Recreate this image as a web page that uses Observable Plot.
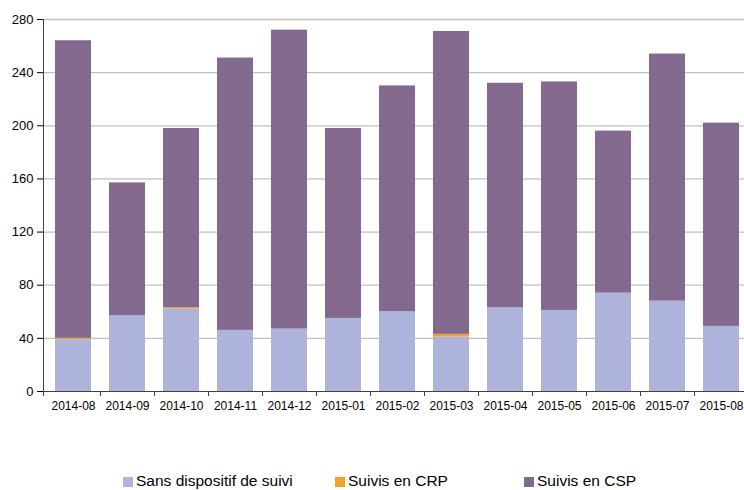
<!DOCTYPE html>
<html>
<head>
<meta charset="utf-8">
<script src="https://cdn.jsdelivr.net/npm/d3@7"></script>
<script src="https://cdn.jsdelivr.net/npm/@observablehq/plot@0.6"></script>
<style>
  html, body { margin: 0; padding: 0; background: #fff; overflow: hidden; }
  body { font-family: "Liberation Sans", Arial, sans-serif; width: 744px; }
  #chart { width: 744px; overflow: hidden; }
  #chart svg { display: block; max-width: none !important; }
  #legend { position: relative; height: 70px; width: 744px; }
  .item { position: absolute; top: 52px; display: flex; align-items: center; font-size: 15.5px; color: #000; white-space: nowrap; line-height: 18px; }
  .sw { width: 10px; height: 10px; margin-right: 3px; margin-top: 2px; }
</style>
</head>
<body>
<div id="chart"></div>
<div id="legend"></div>
<script>
const months = ["2014-08","2014-09","2014-10","2014-11","2014-12","2015-01","2015-02","2015-03","2015-04","2015-05","2015-06","2015-07","2015-08"];
const seriesNames = ["Sans dispositif de suivi", "Suivis en CRP", "Suivis en CSP"];
const sansValues = [39, 57, 62, 46, 47, 55, 60, 41, 63, 61, 74, 68, 49];
const crpValues  = [1, 0, 1, 0, 0, 0, 0, 2, 0, 0, 0, 0, 0];
const cspValues  = [224, 100, 135, 205, 225, 143, 170, 228, 169, 172, 122, 186, 153];
const yTicks = [0, 40, 80, 120, 160, 200, 240, 280];
const colors = ["#adb3da", "#f5a02b", "#84698f"];

const seriesValues = [sansValues, crpValues, cspValues];
const data = months.flatMap((m, i) =>
  seriesNames.map((s, k) => ({month: m, series: s, value: seriesValues[k][i]}))
);

const chart = Plot.plot({
  width: 750,
  height: 420,
  marginTop: 19,
  marginBottom: 29,
  marginLeft: 43,
  marginRight: 0,
  style: {fontFamily: '"Liberation Sans", Arial, sans-serif', color: "#000", background: "#fff", maxWidth: "none"},
  x: {domain: months, paddingInner: 0.336, paddingOuter: 0.19, label: null},
  y: {domain: [0, 280], label: null},
  color: {domain: seriesNames, range: colors},
  marks: [
    Plot.ruleY(yTicks.filter(d => d > 0), {stroke: "#c0c0c0", strokeWidth: 1.3}),
    Plot.barY(data, {x: "month", y: "value", fill: "series", order: seriesNames, inset: 0}),
    Plot.ruleY([0], {stroke: "#404040", strokeWidth: 1}),
    Plot.axisY({ticks: yTicks, tickSize: 6, tickPadding: 4, fontSize: 13, label: null, stroke: "#000"}),
    Plot.axisX({tickSize: 0, tickPadding: 10, fontSize: 12, label: null})
  ]
});
document.getElementById("chart").appendChild(chart);

// Left axis line and category boundary ticks, from the plot's own scales
const xs = chart.scale("x"), ys = chart.scale("y");
const svg = d3.select(chart);
const g = svg.append("g").attr("stroke", "#404040").attr("stroke-width", 1);
const x0 = xs.range[0];
g.append("line").attr("x1", x0 + 0.5).attr("x2", x0 + 0.5)
  .attr("y1", ys.apply(0)).attr("y2", ys.apply(280));
const half = (xs.step - xs.bandwidth) / 2;
const bounds = months.map(m => xs.apply(m) - half);
bounds.push(xs.apply(months[months.length - 1]) + xs.bandwidth + half);
bounds.forEach((b, i) => {
  const bx = i === 0 ? x0 + 0.5 : Math.round(b) + 0.5;
  g.append("line").attr("x1", bx).attr("x2", bx)
    .attr("y1", ys.apply(0)).attr("y2", ys.apply(0) + 5);
});

// Legend
const legend = document.getElementById("legend");
const lefts = [123, 335, 524];
seriesNames.forEach((s, k) => {
  const it = document.createElement("div");
  it.className = "item";
  it.style.left = lefts[k] + "px";
  const sw = document.createElement("span");
  sw.className = "sw";
  sw.style.background = colors[k];
  it.appendChild(sw);
  it.appendChild(document.createTextNode(s));
  legend.appendChild(it);
});
</script>
</body>
</html>
